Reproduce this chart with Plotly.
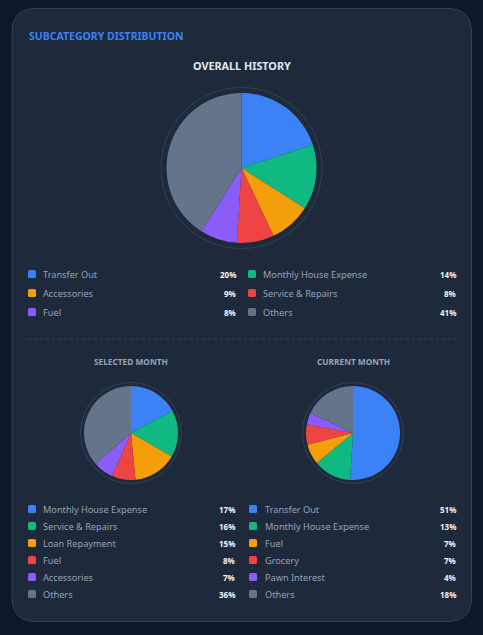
import plotly.graph_objects as go

W, H = 483, 635
FONT = "Noto Sans"

# ---------------- data ----------------
overall_labels = ["Transfer Out", "Monthly House Expense", "Accessories",
                  "Service & Repairs", "Fuel", "Others"]
overall_values = [20, 14, 9, 8, 8, 41]

selected_labels = ["Monthly House Expense", "Service & Repairs", "Loan Repayment",
                   "Fuel", "Accessories", "Others"]
selected_values = [17, 16, 15, 8, 7, 36]

current_labels = ["Transfer Out", "Monthly House Expense", "Fuel",
                  "Grocery", "Pawn Interest", "Others"]
current_values = [51, 13, 7, 7, 4, 18]

palette = ["#3b82f6", "#10b981", "#f59e0b", "#ef4444", "#8b5cf6", "#64748b"]

title_text = "SUBCATEGORY DISTRIBUTION"
overall_title = "OVERALL HISTORY"
selected_title = "SELECTED MONTH"
current_title = "CURRENT MONTH"

# ---------------- styles ----------------
PAGE_BG = "#0f172a"
CARD_BG = "#1e293b"
BORDER = "#334155"
LABEL_C = "#94a3b8"
PCT_C = "#f1f5f9"
LAB_SIZE = 9.2
PCT_SIZE = 8

fig = go.Figure()
shapes = []
annotations = []


def px_dom(cx, cy, r):
    return dict(x=[(cx - r) / W, (cx + r) / W],
                y=[1 - (cy + r) / H, 1 - (cy - r) / H])


def add_pie(labels, values, cx, cy, r, ring_r):
    shapes.append(dict(type="circle", xref="x", yref="y",
                       x0=cx - ring_r, x1=cx + ring_r, y0=cy - ring_r, y1=cy + ring_r,
                       line=dict(color=BORDER, width=1), fillcolor=CARD_BG, layer="below"))
    fig.add_trace(go.Pie(labels=labels, values=values, sort=False,
                         direction="clockwise", rotation=0,
                         marker=dict(colors=palette, line=dict(width=0)),
                         textinfo="none", hoverinfo="label+percent",
                         showlegend=False, domain=px_dom(cx, cy, r)))


def rounded_rect(x0, y0, x1, y1, rad):
    return (f"M{x0+rad},{y0} L{x1-rad},{y0} Q{x1},{y0} {x1},{y0+rad} "
            f"L{x1},{y1-rad} Q{x1},{y1} {x1-rad},{y1} L{x0+rad},{y1} "
            f"Q{x0},{y1} {x0},{y1-rad} L{x0},{y0+rad} Q{x0},{y0} {x0+rad},{y0} Z")


def legend_item(color_i, lab, val, sq_x, lab_x, pct_x, y):
    shapes.append(dict(type="path", xref="x", yref="y",
                       path=rounded_rect(sq_x, y - 4, sq_x + 8, y + 4, 1.6),
                       fillcolor=palette[color_i], line=dict(width=0), layer="above"))
    annotations.append(dict(x=lab_x, y=y, xref="x", yref="y", text=lab,
                            showarrow=False, xanchor="left", yanchor="middle",
                            font=dict(family=FONT, size=LAB_SIZE, color=LABEL_C)))
    annotations.append(dict(x=pct_x, y=y, xref="x", yref="y", text=f"<b>{val}%</b>",
                            showarrow=False, xanchor="right", yanchor="middle",
                            font=dict(family=FONT, size=PCT_SIZE, color=PCT_C)))


# card
shapes.append(dict(type="path", xref="x", yref="y",
                   path=rounded_rect(12, 8.5, 471.5, 621.5, 24),
                   fillcolor=CARD_BG, line=dict(color=BORDER, width=1), layer="below"))

# divider
shapes.append(dict(type="line", xref="x", yref="y", x0=28, x1=456, y0=339, y1=339,
                   line=dict(color=BORDER, width=1, dash="dot"), layer="below"))

# titles
annotations.append(dict(x=26.5, y=36, xref="x", yref="y", text=f"<b>{title_text}</b>",
                        showarrow=False, xanchor="left", yanchor="middle",
                        font=dict(family=FONT, size=10.5, color="#3b82f6")))
annotations.append(dict(x=241.5, y=65, xref="x", yref="y", text=f"<b>{overall_title}</b>",
                        showarrow=False, xanchor="center", yanchor="middle",
                        font=dict(family=FONT, size=10.8, color="#e2e8f0")))
annotations.append(dict(x=131, y=361, xref="x", yref="y", text=f"<b>{selected_title}</b>",
                        showarrow=False, xanchor="center", yanchor="middle",
                        font=dict(family=FONT, size=8.3, color=LABEL_C)))
annotations.append(dict(x=353, y=361, xref="x", yref="y", text=f"<b>{current_title}</b>",
                        showarrow=False, xanchor="center", yanchor="middle",
                        font=dict(family=FONT, size=8.3, color=LABEL_C)))

# pies
add_pie(overall_labels, overall_values, 241.5, 168, 75, 80.5)
add_pie(selected_labels, selected_values, 131, 433, 47, 50.5)
add_pie(current_labels, current_values, 353, 433, 47, 50.5)

# legends: overall (two columns, three rows)
for row in range(3):
    y = 274 + row * 19
    i = 2 * row
    legend_item(i, overall_labels[i], overall_values[i], 28, 40.5, 238, y)
    j = 2 * row + 1
    legend_item(j, overall_labels[j], overall_values[j], 248, 260.5, 458, y)

for i in range(len(selected_labels)):
    legend_item(i, selected_labels[i], selected_values[i], 28, 40.5, 237, 509 + i * 17)
for i in range(len(current_labels)):
    legend_item(i, current_labels[i], current_values[i], 249, 262.5, 458, 509 + i * 17)

fig.update_layout(
    width=W, height=H, autosize=False,
    margin=dict(l=0, r=0, t=0, b=0, pad=0),
    paper_bgcolor=PAGE_BG, plot_bgcolor="rgba(0,0,0,0)",
    xaxis=dict(range=[0, W], visible=False, fixedrange=True),
    yaxis=dict(range=[H, 0], visible=False, fixedrange=True),
    shapes=shapes, annotations=annotations, showlegend=False,
)

fig.write_html("out.html", config={"displayModeBar": False})
